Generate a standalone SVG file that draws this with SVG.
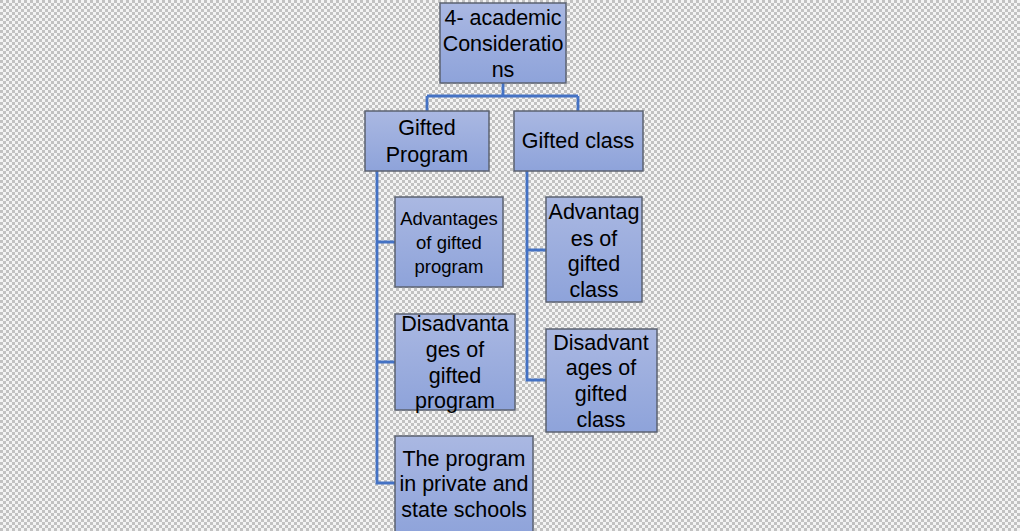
<svg xmlns="http://www.w3.org/2000/svg" width="1020" height="531" viewBox="0 0 1020 531">
  <defs>
    <pattern id="checker" width="6" height="6" patternUnits="userSpaceOnUse">
      <rect width="6" height="6" fill="#f4f4f4"/>
      <rect width="3" height="3" fill="#c2c2c2"/>
      <rect x="3" y="3" width="3" height="3" fill="#c2c2c2"/>
    </pattern>
    <linearGradient id="boxFill" x1="0" y1="0" x2="0" y2="1">
      <stop offset="0" stop-color="#aab8e2"/>
      <stop offset="1" stop-color="#8ea3da"/>
    </linearGradient>
  </defs>
  <style>
    .box { fill: url(#boxFill); stroke: #5b6270; stroke-width: 1.5; }
    .lbl { font-family: "Liberation Sans", Arial, sans-serif; font-size: 21.5px; fill: #000; text-anchor: middle; }
    .sm { font-size: 18.5px; }
    .link { fill: none; stroke: #4472c4; stroke-width: 2.8; }
  </style>

  <rect width="1020" height="531" fill="url(#checker)"/>

  <g id="connectors">
    <path class="link" d="M503 83 V96 M427 96 H578 M427 96 V111 M578 96 V111"/>
    <path class="link" d="M377 171 V483 H395 M377 242 H395 M377 362 H395"/>
    <path class="link" d="M527 171 V380 H546 M527 250 H546"/>
  </g>

  <g id="root">
    <rect class="box" x="440" y="3" width="126" height="80"/>
    <text class="lbl" x="503" y="25">4- academic</text>
    <text class="lbl" x="503" y="51">Consideratio</text>
    <text class="lbl" x="503" y="77">ns</text>
  </g>

  <g id="gifted-program">
    <rect class="box" x="365" y="111" width="124" height="60"/>
    <text class="lbl" x="427" y="135">Gifted</text>
    <text class="lbl" x="427" y="162">Program</text>
  </g>

  <g id="gifted-class">
    <rect class="box" x="514" y="111" width="129" height="60"/>
    <text class="lbl" x="578" y="148">Gifted class</text>
  </g>

  <g id="adv-program">
    <rect class="box" x="395" y="197" width="108" height="90"/>
    <text class="lbl sm" x="449" y="225">Advantages</text>
    <text class="lbl sm" x="449" y="249">of gifted</text>
    <text class="lbl sm" x="449" y="273">program</text>
  </g>

  <g id="disadv-program">
    <rect class="box" x="395" y="314" width="120" height="96"/>
    <text class="lbl" x="455" y="331">Disadvanta</text>
    <text class="lbl" x="455" y="357">ges of</text>
    <text class="lbl" x="455" y="383">gifted</text>
    <text class="lbl" x="455" y="408">program</text>
  </g>

  <g id="program-schools">
    <rect class="box" x="395" y="436" width="138" height="100"/>
    <text class="lbl" x="464" y="466">The program</text>
    <text class="lbl" x="464" y="491">in private and</text>
    <text class="lbl" x="464" y="517">state schools</text>
  </g>

  <g id="adv-class">
    <rect class="box" x="546" y="197" width="96" height="105"/>
    <text class="lbl" x="594" y="219">Advantag</text>
    <text class="lbl" x="594" y="246">es of</text>
    <text class="lbl" x="594" y="271">gifted</text>
    <text class="lbl" x="594" y="297">class</text>
  </g>

  <g id="disadv-class">
    <rect class="box" x="546" y="329" width="111" height="103"/>
    <text class="lbl" x="601" y="350">Disadvant</text>
    <text class="lbl" x="601" y="375">ages of</text>
    <text class="lbl" x="601" y="401">gifted</text>
    <text class="lbl" x="601" y="427">class</text>
  </g>
</svg>
